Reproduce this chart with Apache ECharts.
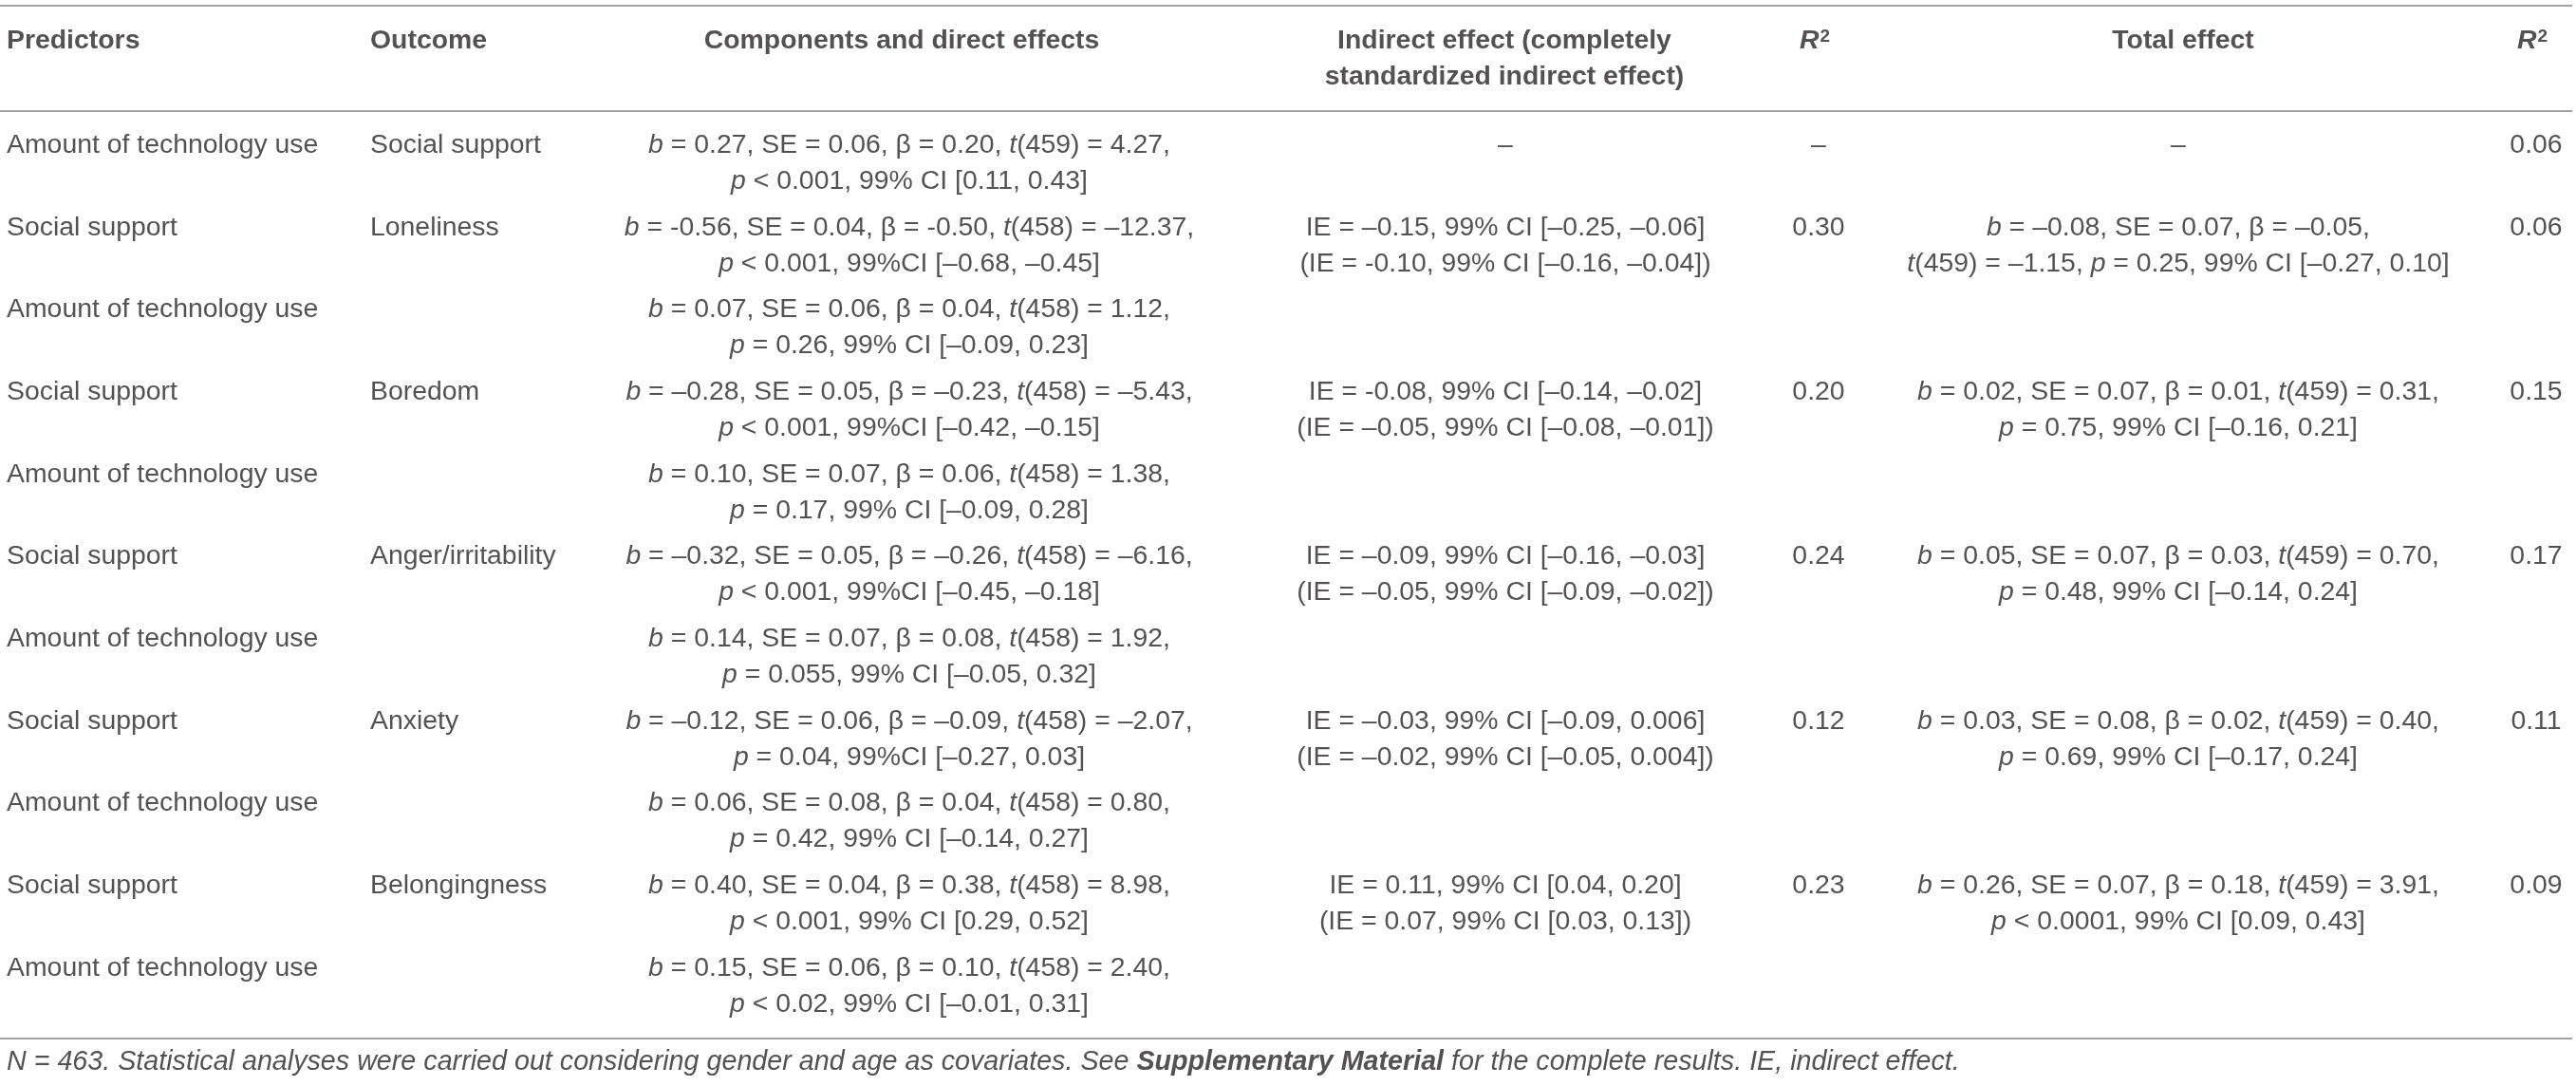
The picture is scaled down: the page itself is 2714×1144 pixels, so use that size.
<!DOCTYPE html>
<html>
<head>
<meta charset="utf-8">
<script src="https://cdn.jsdelivr.net/npm/echarts@6/dist/echarts.min.js"></script>
<style>
html,body{margin:0;padding:0;background:#ffffff;}
#chart{width:2714px;height:1144px;}
</style>
</head>
<body>
<div id="chart"></div>
<script>
// ---------------- DATA ----------------
const headerLine1 = ['Predictors', 'Outcome', 'Components and direct effects', 'Indirect effect (completely', 'R2', 'Total effect', 'R2'];
const headerLine2 = ['', '', '', 'standardized indirect effect)', '', '', ''];

const predictors = [
  'Amount of technology use', 'Social support', 'Amount of technology use',
  'Social support', 'Amount of technology use', 'Social support',
  'Amount of technology use', 'Social support', 'Amount of technology use',
  'Social support', 'Amount of technology use'
];
const outcomes = [
  'Social support', 'Loneliness', '', 'Boredom', '', 'Anger/irritability', '',
  'Anxiety', '', 'Belongingness', ''
];
const componentsLine1 = [
  'b = 0.27, SE = 0.06, β = 0.20, t(459) = 4.27,',
  'b = -0.56, SE = 0.04, β = -0.50, t(458) = –12.37,',
  'b = 0.07, SE = 0.06, β = 0.04, t(458) = 1.12,',
  'b = –0.28, SE = 0.05, β = –0.23, t(458) = –5.43,',
  'b = 0.10, SE = 0.07, β = 0.06, t(458) = 1.38,',
  'b = –0.32, SE = 0.05, β = –0.26, t(458) = –6.16,',
  'b = 0.14, SE = 0.07, β = 0.08, t(458) = 1.92,',
  'b = –0.12, SE = 0.06, β = –0.09, t(458) = –2.07,',
  'b = 0.06, SE = 0.08, β = 0.04, t(458) = 0.80,',
  'b = 0.40, SE = 0.04, β = 0.38, t(458) = 8.98,',
  'b = 0.15, SE = 0.06, β = 0.10, t(458) = 2.40,'
];
const componentsLine2 = [
  'p < 0.001, 99% CI [0.11, 0.43]',
  'p < 0.001, 99%CI [–0.68, –0.45]',
  'p = 0.26, 99% CI [–0.09, 0.23]',
  'p < 0.001, 99%CI [–0.42, –0.15]',
  'p = 0.17, 99% CI [–0.09, 0.28]',
  'p < 0.001, 99%CI [–0.45, –0.18]',
  'p = 0.055, 99% CI [–0.05, 0.32]',
  'p = 0.04, 99%CI [–0.27, 0.03]',
  'p = 0.42, 99% CI [–0.14, 0.27]',
  'p < 0.001, 99% CI [0.29, 0.52]',
  'p < 0.02, 99% CI [–0.01, 0.31]'
];
const indirectLine1 = [
  '–', 'IE = –0.15, 99% CI [–0.25, –0.06]', '', 'IE = -0.08, 99% CI [–0.14, –0.02]', '',
  'IE = –0.09, 99% CI [–0.16, –0.03]', '', 'IE = –0.03, 99% CI [–0.09, 0.006]', '',
  'IE = 0.11, 99% CI [0.04, 0.20]', ''
];
const indirectLine2 = [
  '', '(IE = -0.10, 99% CI [–0.16, –0.04])', '', '(IE = –0.05, 99% CI [–0.08, –0.01])', '',
  '(IE = –0.05, 99% CI [–0.09, –0.02])', '', '(IE = –0.02, 99% CI [–0.05, 0.004])', '',
  '(IE = 0.07, 99% CI [0.03, 0.13])', ''
];
const r2Indirect = ['–', '0.30', '', '0.20', '', '0.24', '', '0.12', '', '0.23', ''];
const totalLine1 = [
  '–', 'b = –0.08, SE = 0.07, β = –0.05,', '', 'b = 0.02, SE = 0.07, β = 0.01, t(459) = 0.31,', '',
  'b = 0.05, SE = 0.07, β = 0.03, t(459) = 0.70,', '', 'b = 0.03, SE = 0.08, β = 0.02, t(459) = 0.40,', '',
  'b = 0.26, SE = 0.07, β = 0.18, t(459) = 3.91,', ''
];
const totalLine2 = [
  '', 't(459) = –1.15, p = 0.25, 99% CI [–0.27, 0.10]', '', 'p = 0.75, 99% CI [–0.16, 0.21]', '',
  'p = 0.48, 99% CI [–0.14, 0.24]', '', 'p = 0.69, 99% CI [–0.17, 0.24]', '',
  'p < 0.0001, 99% CI [0.09, 0.43]', ''
];
const r2Total = ['0.06', '0.06', '', '0.15', '', '0.17', '', '0.11', '', '0.09', ''];

const footnoteBefore = 'N = 463. Statistical analyses were carried out considering gender and age as covariates. See ';
const footnoteEmph = 'Supplementary Material';
const footnoteAfter = ' for the complete results. IE, indirect effect.';

// ---------------- LAYOUT / STYLE ----------------
const W = 2714, H = 1144;
const FF = '"Liberation Sans", Arial, Helvetica, sans-serif';
const FS = 28.4;
const FS_FOOT = 28.7;
const COLOR = '#2a2627';
const RULE = '#a3a3a3';
const cols = [
  { x: 7, align: 'left' },
  { x: 390, align: 'left' },
  { x: 958, align: 'center' },
  { x: 1586, align: 'center' },
  { x: 1916, align: 'center' },
  { x: 2295, align: 'center' },
  { x: 2672, align: 'center' }
];
const headerCols = [7, 390, 950, 1585, 1912, 2300, 2668];
const headY1 = 43, headY2 = 81;
const rowY0 = 153, rowH = 86.7, line2Off = 38;
const rules = [6, 117, 1094];
const footY = 1119;

const rich = {
  i: { fontStyle: 'italic', fontFamily: FF, fontSize: FS, color: COLOR },
  b: { fontWeight: 'bold', fontFamily: FF, fontSize: FS, color: COLOR },
  bi: { fontWeight: 'bold', fontStyle: 'italic', fontFamily: FF, fontSize: FS, color: COLOR },
  fi: { fontStyle: 'italic', fontFamily: FF, fontSize: FS_FOOT, color: COLOR },
  fbi: { fontWeight: 'bold', fontStyle: 'italic', fontFamily: FF, fontSize: FS_FOOT, color: COLOR },
  sup: { fontWeight: 'bold', fontFamily: FF, fontSize: 19, color: COLOR, verticalAlign: 'top', lineHeight: 22, padding: [0, 0, 0, 1] }
};

function italicize(s) {
  return s.replace(/(^|[\s(\[])([btp])(?=[\s(])/g, '$1{i|$2}');
}

function textSeries(name, items) {
  return {
    name: name,
    type: 'scatter',
    symbolSize: 0,
    silent: true,
    animation: false,
    data: items.map(it => ({ value: [it.x, it.y], txt: it.txt, label: { align: it.align } })),
    label: {
      show: true,
      position: 'inside',
      verticalAlign: 'middle',
      fontFamily: FF,
      fontSize: FS,
      color: COLOR,
      rich: rich,
      formatter: p => p.data.txt
    }
  };
}

// ---------------- BUILD ----------------
const series = [];

// header
const headItems = [];
headerLine1.forEach((h, c) => {
  const txt = h === 'R2' ? '{bi|R}{sup|2}' : '{b|' + h + '}';
  headItems.push({ x: headerCols[c], y: headY1, txt: txt, align: cols[c].align });
});
headerLine2.forEach((h, c) => {
  if (h) headItems.push({ x: headerCols[c], y: headY2, txt: '{b|' + h + '}', align: cols[c].align });
});
series.push(textSeries('header', headItems));

// body
const bodyColumns = [
  [predictors, null],
  [outcomes, null],
  [componentsLine1, componentsLine2],
  [indirectLine1, indirectLine2],
  [r2Indirect, null],
  [totalLine1, totalLine2],
  [r2Total, null]
];
bodyColumns.forEach((pair, c) => {
  const items = [];
  pair[0].forEach((t, r) => {
    const y = rowY0 + r * rowH;
    if (t) items.push({ x: cols[c].x, y: y, txt: italicize(t), align: cols[c].align });
    if (pair[1] && pair[1][r]) items.push({ x: cols[c].x, y: y + line2Off, txt: italicize(pair[1][r]), align: cols[c].align });
  });
  series.push(textSeries('col' + c, items));
});

// footnote
series.push(textSeries('footnote', [{
  x: 7, y: footY, align: 'left',
  txt: '{fi|' + footnoteBefore + '}{fbi|' + footnoteEmph + '}{fi|' + footnoteAfter + '}'
}]));

// rules
rules.forEach((y, k) => {
  series.push({
    name: 'rule' + k,
    type: 'line',
    silent: true,
    animation: false,
    symbol: 'none',
    data: [[0, y], [W - 4, y]],
    lineStyle: { color: RULE, width: 2 }
  });
});

const chart = echarts.init(document.getElementById('chart'), null, { renderer: 'canvas' });
chart.setOption({
  backgroundColor: '#ffffff',
  animation: false,
  grid: { left: 0, right: 0, top: 0, bottom: 0 },
  xAxis: { type: 'value', min: 0, max: W, show: false },
  yAxis: { type: 'value', min: 0, max: H, inverse: true, show: false },
  series: series
});
</script>
</body>
</html>
